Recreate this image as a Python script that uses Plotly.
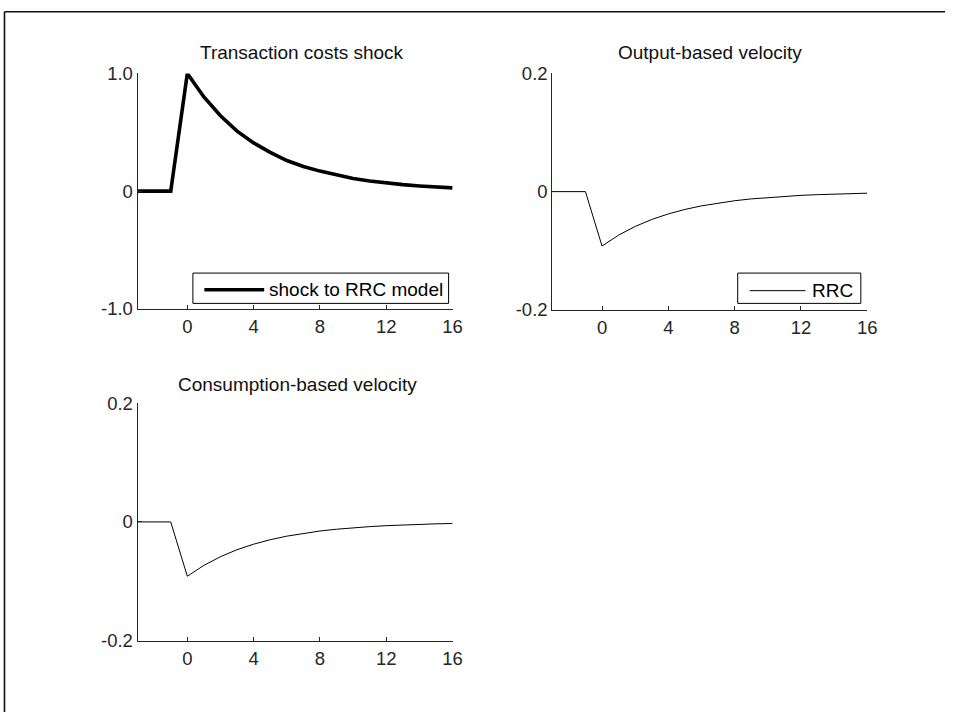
import plotly.graph_objects as go

periods = [-3, -2, -1, 0, 1, 2, 3, 4, 5, 6, 7, 8, 9, 10, 11, 12, 13, 14, 15, 16]
shock = [0, 0, 0, 1.0, 0.80, 0.64, 0.51, 0.41, 0.33, 0.26, 0.21, 0.17, 0.135, 0.107,
         0.086, 0.069, 0.055, 0.044, 0.035, 0.028]
output_vel = [0, 0, 0, -0.092, -0.0736, -0.0589, -0.0471, -0.0377, -0.0301, -0.0241,
              -0.0193, -0.0154, -0.0123, -0.0099, -0.0079, -0.0063, -0.0051, -0.0040,
              -0.0032, -0.0026]
cons_vel = [0, 0, 0, -0.0915, -0.0732, -0.0586, -0.0468, -0.0375, -0.0300, -0.0240,
            -0.0192, -0.0153, -0.0123, -0.0098, -0.0079, -0.0063, -0.0050, -0.0040,
            -0.0032, -0.0026]
titles = ["Transaction costs shock", "Output-based velocity", "Consumption-based velocity"]
legend_labels = ["shock to RRC model", "RRC"]
x_ticks = [0, 4, 8, 12, 16]
shock_ticks = [-1, 0, 1]
shock_ticklabels = ["-1.0", "0", "1.0"]
vel_ticks = [-0.2, 0, 0.2]
vel_ticklabels = ["-0.2", "0", "0.2"]

W, H = 955, 722
FONT = "Liberation Sans, Arial, sans-serif"
AX = "#262626"
SX, SY, OY = 0.9926, 0.9774, 8.16  # screen mapping compensation


def px_x(p):
    return (p / SX) / W


def px_y(p):
    return 1 - ((p - OY) / SY) / H


fig = go.Figure()
fig.add_trace(go.Scatter(x=periods, y=shock, mode="lines", name=legend_labels[0],
                         line=dict(color="black", width=3.6), xaxis="x", yaxis="y",
                         showlegend=False))
fig.add_trace(go.Scatter(x=periods, y=output_vel, mode="lines", name=legend_labels[1],
                         line=dict(color="black", width=1), xaxis="x2", yaxis="y2",
                         showlegend=False))
fig.add_trace(go.Scatter(x=periods, y=cons_vel, mode="lines", name=legend_labels[1],
                         line=dict(color="black", width=1), xaxis="x3", yaxis="y3",
                         showlegend=False))

panels = [
    # (x0, x1, ytop, ybottom, title centre x)
    (138, 454, 71, 308, 303),
    (554, 870, 71, 309, 712),
    (138, 454, 403, 642, 298),
]
title_mid_y = [50, 50, 384]

common_x = dict(range=[-3, 16], tickvals=x_ticks, ticktext=[str(v) for v in x_ticks],
                showline=True, linecolor=AX, linewidth=1, ticks="inside", ticklen=4,
                tickcolor=AX, showgrid=False, zeroline=False, ticklabelstandoff=1,
                tickfont=dict(family=FONT, size=18.5, color=AX))
common_y = dict(showline=True, linecolor=AX, linewidth=1, ticks="inside", ticklen=4,
                tickcolor=AX, showgrid=False, zeroline=False,
                tickfont=dict(family=FONT, size=18.5, color=AX))

layout = dict(width=W, height=H, margin=dict(l=0, r=0, t=0, b=0),
              paper_bgcolor="white", plot_bgcolor="white", showlegend=False)

for i, (x0, x1, yt, yb, tc) in enumerate(panels):
    sfx = "" if i == 0 else str(i + 1)
    xa = dict(common_x)
    xa["domain"] = [px_x(x0), px_x(x1)]
    xa["anchor"] = "y" + sfx
    ya = dict(common_y)
    ya["domain"] = [px_y(yb), px_y(yt)]
    ya["anchor"] = "x" + sfx
    if i == 0:
        ya.update(range=[-1, 1], tickvals=shock_ticks, ticktext=shock_ticklabels)
    else:
        ya.update(range=[-0.2, 0.2], tickvals=vel_ticks, ticktext=vel_ticklabels)
    layout["xaxis" + sfx] = xa
    layout["yaxis" + sfx] = ya

fig.update_layout(**layout)

for (x0, x1, yt, yb, tc), ty, t in zip(panels, title_mid_y, titles):
    fig.add_annotation(text=t, x=px_x(tc), y=px_y(ty), xref="paper", yref="paper",
                       xanchor="center", yanchor="middle", showarrow=False,
                       font=dict(family=FONT, size=19, color="#111111"))

# legend boxes (box, line sample, label)
legend_specs = [
    # box x0, x1, y0, y1, line x0, x1, line y, text x, line width
    (193.5, 450, 272, 302.5, 205, 265, 288.7, 268, 3.6),
    (740, 863.5, 272, 302.5, 752, 808, 289.7, 813, 1),
]
for (bx0, bx1, by0, by1, lx0, lx1, ly, tx, lw), lab in zip(legend_specs, legend_labels):
    fig.add_shape(type="rect", xref="paper", yref="paper", x0=px_x(bx0), x1=px_x(bx1),
                  y0=px_y(by1), y1=px_y(by0), line=dict(color="black", width=1),
                  fillcolor="white", layer="above")
    fig.add_shape(type="line", xref="paper", yref="paper", x0=px_x(lx0), x1=px_x(lx1),
                  y0=px_y(ly), y1=px_y(ly), line=dict(color="black", width=lw), layer="above")
    fig.add_annotation(text=lab, x=px_x(tx), y=px_y(ly), xref="paper", yref="paper",
                       xanchor="left", yanchor="middle", showarrow=False,
                       font=dict(family=FONT, size=19, color="black"))

# page frame lines
fig.add_shape(type="line", xref="paper", yref="paper", x0=px_x(4.5), x1=1,
              y0=1 - 0.8 / H, y1=1 - 0.8 / H, line=dict(color="#111111", width=1.6))
fig.add_shape(type="line", xref="paper", yref="paper", x0=px_x(4.5), x1=px_x(4.5),
              y0=1 - 0.8 / H, y1=0, line=dict(color="#111111", width=1.6))

fig.write_html("out.html")
